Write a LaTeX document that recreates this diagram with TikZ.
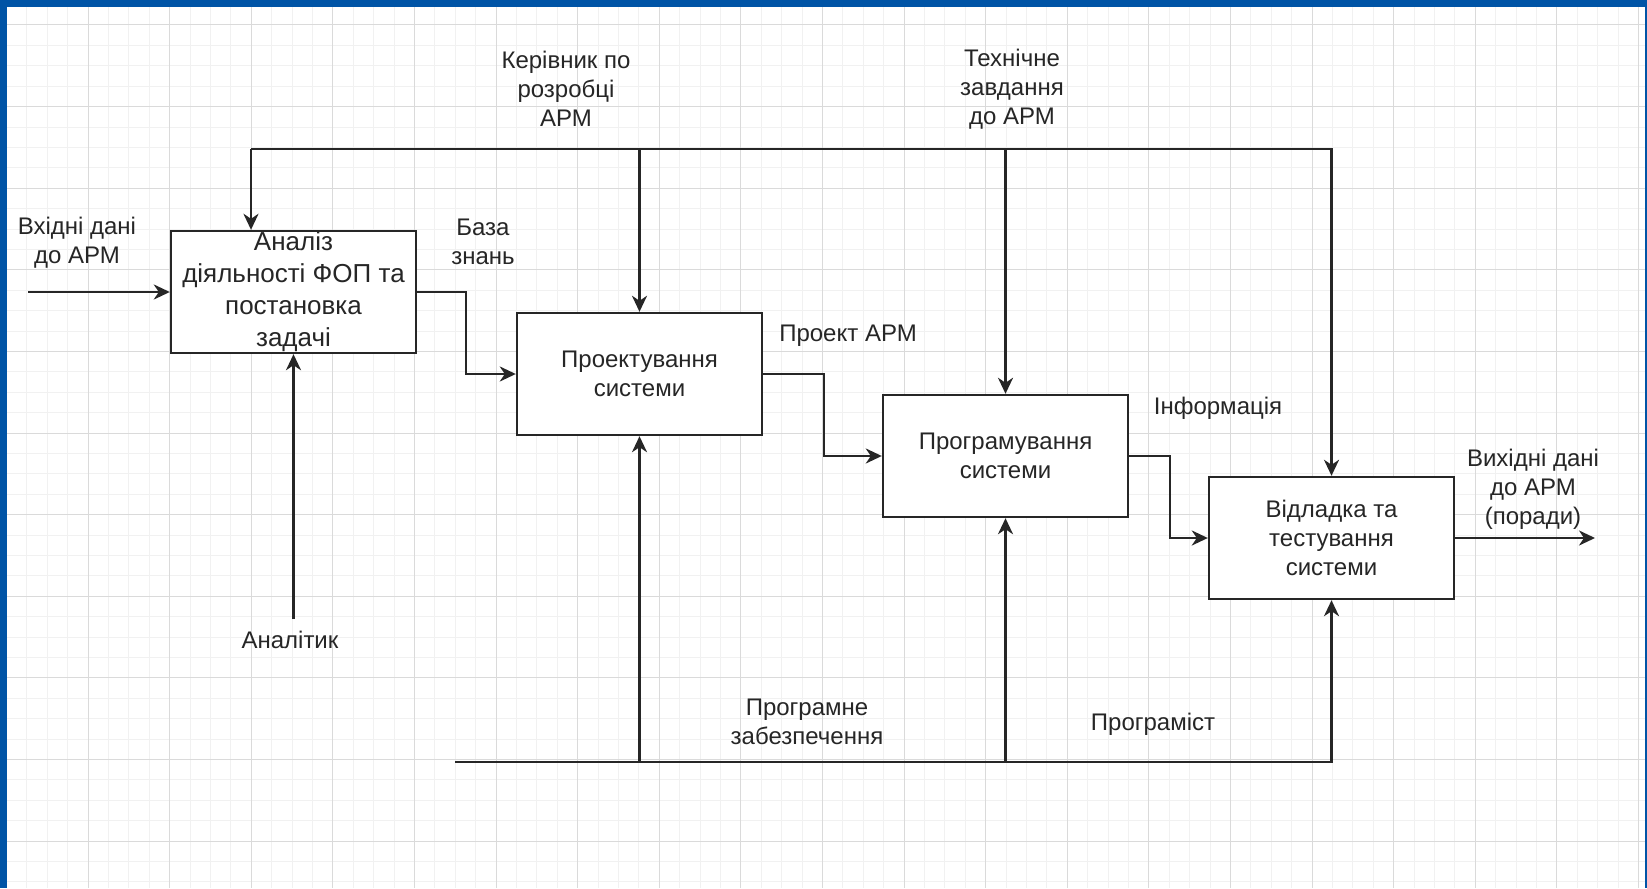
\documentclass[tikz,border=0pt]{standalone}
\usepackage{fontspec}
\setmainfont{Liberation Sans}
\usetikzlibrary{arrows.meta}

\definecolor{frameblue}{RGB}{0,84,166}
\definecolor{gridmajor}{RGB}{218,218,218}
\definecolor{gridminor}{RGB}{241,241,241}
\definecolor{ink}{RGB}{38,38,38}

\begin{document}
\begin{tikzpicture}[x=0.5pt,y=-0.5pt]
\tikzset{
   node distance = 173pt, >={Stealth[length=8pt,width=7.5pt,inset=2.5pt]},
   block/.style = {rectangle, draw = ink, line width = 1.2pt, fill = white, text = ink, minimum width = 122.5pt, minimum height = 61pt, inner sep = 0pt, align = center, font = \fontsize{12}{14.5}\selectfont},
   lbl/.style = {align = center, text = ink, inner sep = 0pt, font = \fontsize{12}{14.5}\selectfont},
   flow/.style = {draw = ink, line width = 1.2pt}
}
\useasboundingbox (0,0) rectangle (1647,888);

% background, grid and frame
\fill[white] (0,0) rectangle (1647,888);
\foreach \g in {0,...,80}
  \draw[gridminor, line width = 0.5pt] ({6.4+20.4*\g},0) -- ({6.4+20.4*\g},888);
\foreach \g in {0,...,43}
  \draw[gridminor, line width = 0.5pt] (0,{4.6+20.4*\g}) -- (1647,{4.6+20.4*\g});
\foreach \g in {0,...,20}
  \draw[gridmajor, line width = 0.5pt] ({6.4+81.6*\g},0) -- ({6.4+81.6*\g},888);
\foreach \g in {0,...,10}
  \draw[gridmajor, line width = 0.5pt] (0,{25+81.6*\g}) -- (1647,{25+81.6*\g});
\fill[frameblue] (0,0) rectangle (1647,7);
\fill[frameblue] (0,0) rectangle (7,888);
\fill[frameblue] (1645,0) rectangle (1647,888);

% activities
\node [block, font = \fontsize{13}{16}\selectfont] (an) at (293.5,292) {Аналіз\\діяльності ФОП та\\постановка\\задачі};
\node [block] (pr) [right of = an, yshift = -41pt] {Проектування\\системи};
\node [block] (pg) [right of = pr, xshift = 10pt, yshift = -41pt] {Програмування\\системи};
\node [block] (ot) [right of = pg, xshift = -10pt, yshift = -41pt] {Відладка та\\тестування\\системи};

% free ends
\coordinate (in) at (28,292);
\coordinate (out) at (1595,538);
\coordinate (ctrl) at (251,149);
\coordinate (mech) at (455,762);
\coordinate (anl) at (293.5,619);

% labels
\node [lbl] (inlbl) at (77,243) {Вхідні дані\\до АРМ};
\node [lbl] (baza) at (483,242) {База\\знань};
\node [lbl] (kerivnyk) at (566,89) {Керівник по\\розробці\\АРМ};
\node [lbl] (tz) at (1012,89) {Технічне\\завдання\\до АРМ};
\node [lbl] (proekt) at (848,336) {Проект АРМ};
\node [lbl] (info) at (1218,408) {Інформація};
\node [lbl] (outlbl) at (1533,489) {Вихідні дані\\до АРМ\\(поради)};
\node [lbl] (analityk) at (290,640) {Аналітик};
\node [lbl] (pz) at (807,722) {Програмне\\забезпечення};
\node [lbl] (prog) at (1153,724) {Програміст};

% inputs and outputs
\draw [flow, ->] (in) -- (an.west);
\draw [flow, ->] (an.east) -- ++(49,0) |- (pr.west);
\draw [flow, ->] (pr.east) -- ++(61,0) |- (pg.west);
\draw [flow, ->] (pg.east) -- ++(41,0) |- (ot.west);
\draw [flow, ->] (ot.east) -- (out);

% controls
\draw [flow, ->] (ctrl) -| (ot.north);
\draw [flow, ->] (ctrl) -- (ctrl |- an.north);
\draw [flow, ->] (ctrl -| pr.north) -- (pr.north);
\draw [flow, ->] (ctrl -| pg.north) -- (pg.north);

% mechanisms
\draw [flow, ->] (anl) -- (an.south);
\draw [flow, ->] (mech) -| (ot.south);
\draw [flow, ->] (mech -| pr.south) -- (pr.south);
\draw [flow, ->] (mech -| pg.south) -- (pg.south);

\end{tikzpicture}
\end{document}
